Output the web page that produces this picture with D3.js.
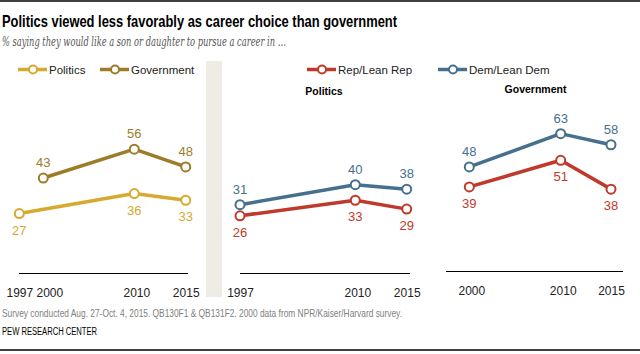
<!DOCTYPE html>
<html><head><meta charset="utf-8">
<script src="https://cdn.jsdelivr.net/npm/d3@7"></script>
<style>body{margin:0;background:#fff;}svg{display:block;}text{font-family:"Liberation Sans",Arial,sans-serif;}</style>
</head><body><svg id="c" width="640" height="354"></svg>
<script>
// ---- data ----
const yearsAll = [1997, 2000, 2010, 2015];
const politicsAll = [27, null, 36, 33];
const governmentAll = [null, 43, 56, 48];
const politicsYears = [1997, 2010, 2015];
const repPolitics = [26, 33, 29];
const demPolitics = [31, 40, 38];
const governmentYears = [2000, 2010, 2015];
const repGovernment = [39, 51, 38];
const demGovernment = [48, 63, 58];
const tickLabels1 = ["1997", "2000", "2010", "2015"];
const tickLabels2 = ["1997", "2010", "2015"];
const tickLabels3 = ["2000", "2010", "2015"];

const C = {pol:"#d6aa2f", gov:"#9c7c28", rep:"#bf3a2b", dem:"#46708d"};
const svg = d3.select("#c");

// top/bottom rules
svg.append("line").attr("x1",0).attr("x2",640).attr("y1",1).attr("y2",1).attr("stroke","#000").attr("stroke-width",1.5);
svg.append("line").attr("x1",0).attr("x2",640).attr("y1",350).attr("y2",350).attr("stroke","#000").attr("stroke-width",1.5);

svg.append("text").attr("x",2).attr("y",27).attr("font-size",17).attr("font-weight","bold")
  .attr("textLength",395).attr("lengthAdjust","spacingAndGlyphs").attr("fill","#000")
  .text("Politics viewed less favorably as career choice than government");
svg.append("text").attr("x",2).attr("y",46).attr("font-size",12).attr("font-style","italic")
  .style("font-family","'DejaVu Serif','Liberation Serif',serif")
  .attr("textLength",284).attr("lengthAdjust","spacingAndGlyphs").attr("fill","#555")
  .text("% saying they would like a son or daughter to pursue a career in …");

// separator band
svg.append("rect").attr("x",206).attr("y",61).attr("width",16).attr("height",236).attr("fill","#efebe5");

const y = d3.scaleLinear().domain([0, 100]).range([273.5, 51.5]);

function legendItem(x, yc, color, label) {
  const g = svg.append("g");
  g.append("line").attr("x1",x).attr("x2",x+29).attr("y1",yc).attr("y2",yc).attr("stroke",color).attr("stroke-width",3.5);
  g.append("circle").attr("cx",x+15).attr("cy",yc).attr("r",4).attr("fill","#fff").attr("stroke",color).attr("stroke-width",2);
  g.append("text").attr("x",x+31).attr("y",yc+4).attr("font-size",11.5).attr("fill","#222").text(label);
}
legendItem(18, 69.5, C.pol, "Politics");
legendItem(100, 69.5, C.gov, "Government");
legendItem(307, 69.5, C.rep, "Rep/Lean Rep");
legendItem(438, 69.5, C.dem, "Dem/Lean Dem");

function series(x, years, vals, color, pos) {
  const pts = years.map((yr,i)=>({yr, v: vals[i]})).filter(d=>d.v!=null);
  const line = d3.line().x(d=>x(d.yr)).y(d=>y(d.v));
  svg.append("path").datum(pts).attr("d",line).attr("fill","none").attr("stroke",color).attr("stroke-width",3.5).attr("stroke-linejoin","round");
  svg.selectAll(null).data(pts).enter().append("circle")
    .attr("cx",d=>x(d.yr)).attr("cy",d=>y(d.v)).attr("r",4.5).attr("fill","#fff").attr("stroke",color).attr("stroke-width",2);
  svg.selectAll(null).data(pts).enter().append("text")
    .attr("x",d=>x(d.yr)).attr("y",d=>y(d.v)+(pos==="above"?-11:21))
    .attr("text-anchor","middle").attr("font-size",13).attr("fill",color).text(d=>d.v);
}

function axis(x, years, labels, x0, x1, ly, dxMap) {
  svg.append("line").attr("x1",x0).attr("x2",x1).attr("y1",ly).attr("y2",ly).attr("stroke","#000").attr("stroke-width",1.2);
  const ax = d3.axisBottom(x).tickValues(years).tickFormat((d,i)=>labels[i]).tickSize(0).tickPadding(0);
  const g = svg.append("g").attr("transform",`translate(0,${ly+15})`).call(ax);
  g.select(".domain").remove();
  g.selectAll("text").attr("font-size",12).attr("fill","#222").style("font-family","'Liberation Sans',Arial,sans-serif")
    .attr("dx",(d)=>dxMap && dxMap[d] ? dxMap[d] : 0);
}

// panel 1
const x1 = d3.scaleLinear().domain(yearsAll).range([19.3, 43.3, 134.3, 185.7]);
series(x1, yearsAll, governmentAll, C.gov, "above");
series(x1, yearsAll, politicsAll, C.pol, "below");
axis(x1, yearsAll, tickLabels1, 19, 188, 273.5, {2000: 6, 2010: 2});

// panel 2
const x2 = d3.scaleLinear().domain(politicsYears).range([240, 355.3, 406.7]);
series(x2, politicsYears, demPolitics, C.dem, "above");
series(x2, politicsYears, repPolitics, C.rep, "below");
axis(x2, politicsYears, tickLabels2, 240, 410, 273.5, {2010: 2});
svg.append("text").attr("x",324).attr("y",95).attr("text-anchor","middle").attr("font-size",10.5).attr("font-weight","bold").text("Politics");

// panel 3
const x3 = d3.scaleLinear().domain(governmentYears).range([469.3, 560.7, 611]);
series(x3, governmentYears, demGovernment, C.dem, "above");
series(x3, governmentYears, repGovernment, C.rep, "below");
axis(x3, governmentYears, tickLabels3, 446, 623, 271.5, {2000: 2, 2010: 2});
svg.append("text").attr("x",535.5).attr("y",93).attr("text-anchor","middle").attr("font-size",10.5).attr("font-weight","bold").text("Government");

// footer
svg.append("text").attr("x",2).attr("y",317).attr("font-size",10.5).attr("fill","#808080")
  .attr("textLength",400).attr("lengthAdjust","spacingAndGlyphs")
  .text("Survey conducted Aug. 27-Oct. 4, 2015. QB130F1 & QB131F2. 2000 data from NPR/Kaiser/Harvard survey.");
svg.append("text").attr("x",2).attr("y",335).attr("font-size",10).attr("fill","#000")
  .attr("textLength",95).attr("lengthAdjust","spacingAndGlyphs")
  .text("PEW RESEARCH CENTER");
</script></body></html>
